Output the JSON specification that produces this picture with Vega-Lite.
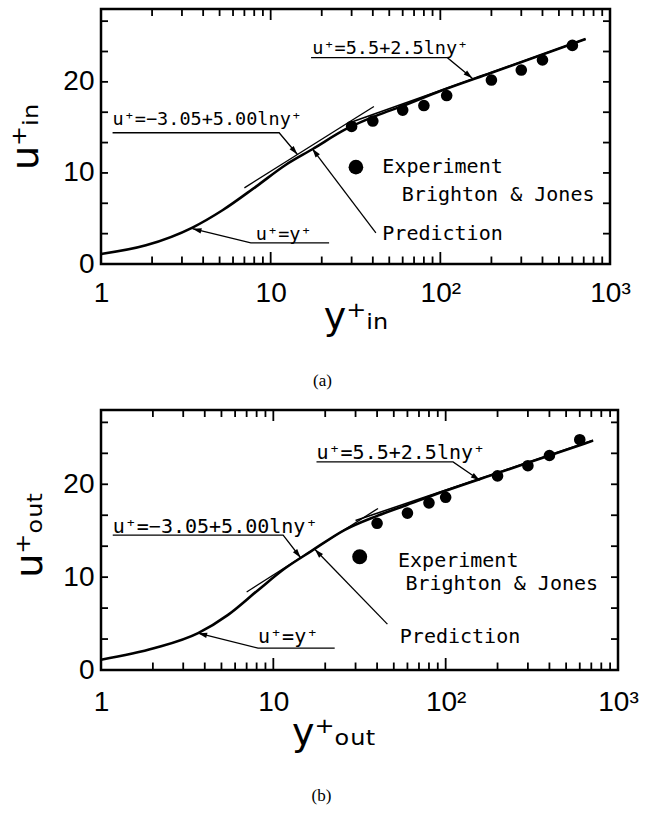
{
  "$schema": "https://vega.github.io/schema/vega-lite/v6.json",
  "background": "white",
  "padding": {"left": 6, "top": 4, "right": 5, "bottom": 5},
  "spacing": 14,
  "config": {
    "view": {"stroke": "black", "strokeWidth": 2.5},
    "axis": {
      "domain": false, "grid": false, "ticks": false, "tickSize": 0,
      "labelColor": "black", "labelFont": "Liberation Sans",
      "labelFontSize": 28, "labelFlush": false, "labelOverlap": false,
      "titleColor": "black", "titleFont": "DejaVu Sans", "titleFontSize": 38, "titleFontWeight": "normal"
    },
    "title": {"font": "Liberation Serif", "fontSize": 17, "fontWeight": "normal", "color": "black"}
  },
  "vconcat": [
    {
      "width": 509,
      "height": 255,
      "title": {"text": "(a)", "orient": "bottom", "anchor": "middle", "frame": "group", "offset": 37, "dx": -33},
      "resolve": {"axis": {"x": "independent", "y": "independent"}},
      "layer": [
        {
          "data": {"values": [
            {"yplus": 1.0, "uplus": 1.1}, {"yplus": 1.84, "uplus": 2.05}, {"yplus": 3.46, "uplus": 4.0},
            {"yplus": 5.2, "uplus": 5.9}, {"yplus": 8.2, "uplus": 8.5}, {"yplus": 12.3, "uplus": 10.9},
            {"yplus": 17.6, "uplus": 12.6}, {"yplus": 27.7, "uplus": 14.8}, {"yplus": 43.5, "uplus": 16.4},
            {"yplus": 57, "uplus": 17.2}, {"yplus": 100, "uplus": 19.0}, {"yplus": 200, "uplus": 21.0},
            {"yplus": 400, "uplus": 23.0}, {"yplus": 718, "uplus": 24.7}
          ]},
          "mark": {"type": "line", "color": "black", "strokeWidth": 2.6, "interpolate": "monotone"},
          "encoding": {
            "x": {"field": "yplus", "type": "quantitative",
              "scale": {"type": "log", "domain": [1, 1000], "nice": false},
              "axis": {"orient": "bottom", "values": [1, 10, 100, 1000],
                "labelExpr": "datum.value == 1 ? '1' : datum.value == 10 ? '10' : datum.value == 100 ? '10²' : '10³'",
                "labelPadding": 15, "title": "y⁺ᵢₙ", "titlePadding": -9}},
            "y": {"field": "uplus", "type": "quantitative",
              "scale": {"domain": [0, 28], "nice": false},
              "axis": {"orient": "left", "values": [0, 10, 20],
                "labelPadding": 7, "title": "u⁺ᵢₙ", "titlePadding": 17}}
          }
        },
        {
          "data": {"values": [{"tick": 1}, {"tick": 2}, {"tick": 3}, {"tick": 4}, {"tick": 5}, {"tick": 6}, {"tick": 7}, {"tick": 8}, {"tick": 9},
            {"tick": 10}, {"tick": 20}, {"tick": 30}, {"tick": 40}, {"tick": 50}, {"tick": 60}, {"tick": 70}, {"tick": 80}, {"tick": 90},
            {"tick": 100}, {"tick": 200}, {"tick": 300}, {"tick": 400}, {"tick": 500}, {"tick": 600}, {"tick": 700}, {"tick": 800}, {"tick": 900}, {"tick": 1000}]},
          "layer": [
            {
              "mark": {"type": "point", "shape": "M0,0L0,-2", "filled": false, "color": "black", "strokeWidth": 1.8, "opacity": 1},
              "encoding": {
                "x": {"field": "tick", "type": "quantitative", "axis": null},
                "y": {"datum": 0, "type": "quantitative", "axis": null},
                "size": {"condition": {"test": "datum.tick == 10 || datum.tick == 100", "value": 144}, "value": 56}
              }
            },
            {
              "mark": {"type": "point", "shape": "M0,0L0,2", "filled": false, "color": "black", "strokeWidth": 1.8, "opacity": 1},
              "encoding": {
                "x": {"field": "tick", "type": "quantitative", "axis": null},
                "y": {"datum": 28, "type": "quantitative", "axis": null},
                "size": {"condition": {"test": "datum.tick == 10 || datum.tick == 100", "value": 121}, "value": 49}
              }
            }
          ]
        },
        {
          "data": {"values": [{"tick": 0}, {"tick": 3.333}, {"tick": 6.667}, {"tick": 10}, {"tick": 13.333}, {"tick": 16.667}, {"tick": 20}, {"tick": 23.333}, {"tick": 26.667}]},
          "layer": [
            {
              "mark": {"type": "point", "shape": "M0,0L2,0", "filled": false, "color": "black", "strokeWidth": 1.8, "opacity": 1, "size": 49},
              "encoding": {
                "x": {"datum": 1, "type": "quantitative", "axis": null},
                "y": {"field": "tick", "type": "quantitative", "axis": null}
              }
            },
            {
              "mark": {"type": "point", "shape": "M0,0L-2,0", "filled": false, "color": "black", "strokeWidth": 1.8, "opacity": 1, "size": 49},
              "encoding": {
                "x": {"datum": 1000, "type": "quantitative", "axis": null},
                "y": {"field": "tick", "type": "quantitative", "axis": null}
              }
            }
          ]
        },
        {
          "data": {"values": [{"yplus": 29.2, "uplus": 15.5}, {"yplus": 718, "uplus": 24.7}]},
          "mark": {"type": "line", "color": "black", "strokeWidth": 1.6},
          "encoding": {
            "x": {"field": "yplus", "type": "quantitative", "axis": null},
            "y": {"field": "uplus", "type": "quantitative", "axis": null}
          }
        },
        {
          "data": {"values": [{"yplus": 7.0, "uplus": 8.36}, {"yplus": 40.6, "uplus": 17.3}]},
          "mark": {"type": "line", "color": "black", "strokeWidth": 1.3},
          "encoding": {
            "x": {"field": "yplus", "type": "quantitative", "axis": null},
            "y": {"field": "uplus", "type": "quantitative", "axis": null}
          }
        },
        {
          "data": {"values": [
            {"note": "loglaw", "step": 1, "yplus": 17.3, "uplus": 22.66}, {"note": "loglaw", "step": 2, "yplus": 110, "uplus": 22.66}, {"note": "loglaw", "step": 3, "yplus": 154.3, "uplus": 20.39},
            {"note": "buffer", "step": 1, "yplus": 1.17, "uplus": 14.41}, {"note": "buffer", "step": 2, "yplus": 11.22, "uplus": 14.41}, {"note": "buffer", "step": 3, "yplus": 14.38, "uplus": 12.02},
            {"note": "viscous", "step": 1, "yplus": 22.1, "uplus": 2.31}, {"note": "viscous", "step": 2, "yplus": 7.64, "uplus": 2.31}, {"note": "viscous", "step": 3, "yplus": 3.46, "uplus": 3.88},
            {"note": "prediction", "step": 1, "yplus": 41.7, "uplus": 3.41}, {"note": "prediction", "step": 2, "yplus": 17.6, "uplus": 12.65}
          ]},
          "mark": {"type": "line", "color": "black", "strokeWidth": 1.3},
          "encoding": {
            "x": {"field": "yplus", "type": "quantitative", "axis": null},
            "y": {"field": "uplus", "type": "quantitative", "axis": null},
            "detail": {"field": "note"},
            "order": {"field": "step"}
          }
        },
        {
          "data": {"values": [{"yplus": 154.3, "uplus": 20.39}]},
          "mark": {"type": "point", "shape": "M0,0L-0.6,2L0.6,2Z", "angle": 130, "filled": true, "color": "black", "opacity": 1, "size": 81},
          "encoding": {"x": {"field": "yplus", "type": "quantitative", "axis": null}, "y": {"field": "uplus", "type": "quantitative", "axis": null}}
        },
        {
          "data": {"values": [{"yplus": 14.38, "uplus": 12.02}]},
          "mark": {"type": "point", "shape": "M0,0L-0.6,2L0.6,2Z", "angle": 140, "filled": true, "color": "black", "opacity": 1, "size": 81},
          "encoding": {"x": {"field": "yplus", "type": "quantitative", "axis": null}, "y": {"field": "uplus", "type": "quantitative", "axis": null}}
        },
        {
          "data": {"values": [{"yplus": 3.46, "uplus": 3.88}]},
          "mark": {"type": "point", "shape": "M0,0L-0.6,2L0.6,2Z", "angle": 284, "filled": true, "color": "black", "opacity": 1, "size": 81},
          "encoding": {"x": {"field": "yplus", "type": "quantitative", "axis": null}, "y": {"field": "uplus", "type": "quantitative", "axis": null}}
        },
        {
          "data": {"values": [{"yplus": 17.6, "uplus": 12.65}]},
          "mark": {"type": "point", "shape": "M0,0L-0.6,2L0.6,2Z", "angle": 323, "filled": true, "color": "black", "opacity": 1, "size": 81},
          "encoding": {"x": {"field": "yplus", "type": "quantitative", "axis": null}, "y": {"field": "uplus", "type": "quantitative", "axis": null}}
        },
        {
          "data": {"values": [
            {"yplus": 30, "uplus": 15.1}, {"yplus": 40, "uplus": 15.7}, {"yplus": 60, "uplus": 16.9},
            {"yplus": 80, "uplus": 17.4}, {"yplus": 109, "uplus": 18.5}, {"yplus": 200, "uplus": 20.2},
            {"yplus": 300, "uplus": 21.3}, {"yplus": 400, "uplus": 22.4}, {"yplus": 600, "uplus": 24.0}
          ]},
          "mark": {"type": "circle", "color": "black", "opacity": 1, "size": 135},
          "encoding": {"x": {"field": "yplus", "type": "quantitative", "axis": null}, "y": {"field": "uplus", "type": "quantitative", "axis": null}}
        },
        {
          "data": {"values": [{"yplus": 31.8, "uplus": 10.63}]},
          "mark": {"type": "circle", "color": "black", "opacity": 1, "size": 215},
          "encoding": {"x": {"field": "yplus", "type": "quantitative", "axis": null}, "y": {"field": "uplus", "type": "quantitative", "axis": null}}
        },
        {
          "data": {"values": [
            {"yplus": 17.6, "uplus": 23.03, "text": "u⁺=5.5+2.5lny⁺"},
            {"yplus": 1.17, "uplus": 15.25, "text": "u⁺=−3.05+5.00lny⁺"},
            {"yplus": 8.18, "uplus": 2.67, "text": "u⁺=y⁺"}
          ]},
          "mark": {"type": "text", "font": "DejaVu Sans Mono", "fontSize": 18.5, "align": "left", "baseline": "alphabetic", "color": "black"},
          "encoding": {"x": {"field": "yplus", "type": "quantitative", "axis": null}, "y": {"field": "uplus", "type": "quantitative", "axis": null}, "text": {"field": "text"}}
        },
        {
          "data": {"values": [
            {"yplus": 45.5, "uplus": 10.01, "text": "Experiment"},
            {"yplus": 59.3, "uplus": 6.89, "text": "Brighton & Jones"},
            {"yplus": 45.5, "uplus": 2.67, "text": "Prediction"}
          ]},
          "mark": {"type": "text", "font": "DejaVu Sans Mono", "fontSize": 20, "align": "left", "baseline": "alphabetic", "color": "black"},
          "encoding": {"x": {"field": "yplus", "type": "quantitative", "axis": null}, "y": {"field": "uplus", "type": "quantitative", "axis": null}, "text": {"field": "text"}}
        }
      ]
    },
    {
      "width": 517,
      "height": 260,
      "title": {"text": "(b)", "orient": "bottom", "anchor": "middle", "frame": "group", "offset": 36, "dx": -38},
      "resolve": {"axis": {"x": "independent", "y": "independent"}},
      "layer": [
        {
          "data": {"values": [
            {"yplus": 1.0, "uplus": 1.1}, {"yplus": 2.05, "uplus": 2.36}, {"yplus": 3.66, "uplus": 3.97},
            {"yplus": 5.46, "uplus": 5.94}, {"yplus": 8.15, "uplus": 8.6}, {"yplus": 11.6, "uplus": 10.9},
            {"yplus": 16.6, "uplus": 12.8}, {"yplus": 26, "uplus": 15.1}, {"yplus": 40, "uplus": 16.6},
            {"yplus": 60, "uplus": 17.8}, {"yplus": 100, "uplus": 19.3}, {"yplus": 200, "uplus": 21.2},
            {"yplus": 400, "uplus": 23.1}, {"yplus": 717, "uplus": 24.7}
          ]},
          "mark": {"type": "line", "color": "black", "strokeWidth": 2.6, "interpolate": "monotone"},
          "encoding": {
            "x": {"field": "yplus", "type": "quantitative",
              "scale": {"type": "log", "domain": [1, 1000], "nice": false},
              "axis": {"orient": "bottom", "values": [1, 10, 100, 1000],
                "labelExpr": "datum.value == 1 ? '1' : datum.value == 10 ? '10' : datum.value == 100 ? '10²' : '10³'",
                "labelPadding": 18, "title": "y⁺ₒᵤₜ", "titlePadding": -2, "titleX": 233}},
            "y": {"field": "uplus", "type": "quantitative",
              "scale": {"domain": [0, 28], "nice": false},
              "axis": {"orient": "left", "values": [0, 10, 20],
                "labelPadding": 7, "title": "u⁺ₒᵤₜ", "titlePadding": 13, "titleY": 124}}
          }
        },
        {
          "data": {"values": [{"tick": 1}, {"tick": 2}, {"tick": 3}, {"tick": 4}, {"tick": 5}, {"tick": 6}, {"tick": 7}, {"tick": 8}, {"tick": 9},
            {"tick": 10}, {"tick": 20}, {"tick": 30}, {"tick": 40}, {"tick": 50}, {"tick": 60}, {"tick": 70}, {"tick": 80}, {"tick": 90},
            {"tick": 100}, {"tick": 200}, {"tick": 300}, {"tick": 400}, {"tick": 500}, {"tick": 600}, {"tick": 700}, {"tick": 800}, {"tick": 900}, {"tick": 1000}]},
          "layer": [
            {
              "mark": {"type": "point", "shape": "M0,0L0,-2", "filled": false, "color": "black", "strokeWidth": 1.8, "opacity": 1},
              "encoding": {
                "x": {"field": "tick", "type": "quantitative", "axis": null},
                "y": {"datum": 0, "type": "quantitative", "axis": null},
                "size": {"condition": {"test": "datum.tick == 10 || datum.tick == 100", "value": 144}, "value": 56}
              }
            },
            {
              "mark": {"type": "point", "shape": "M0,0L0,2", "filled": false, "color": "black", "strokeWidth": 1.8, "opacity": 1},
              "encoding": {
                "x": {"field": "tick", "type": "quantitative", "axis": null},
                "y": {"datum": 28, "type": "quantitative", "axis": null},
                "size": {"condition": {"test": "datum.tick == 10 || datum.tick == 100", "value": 121}, "value": 49}
              }
            }
          ]
        },
        {
          "data": {"values": [{"tick": 0}, {"tick": 3.333}, {"tick": 6.667}, {"tick": 10}, {"tick": 13.333}, {"tick": 16.667}, {"tick": 20}, {"tick": 23.333}, {"tick": 26.667}]},
          "layer": [
            {
              "mark": {"type": "point", "shape": "M0,0L2,0", "filled": false, "color": "black", "strokeWidth": 1.8, "opacity": 1, "size": 49},
              "encoding": {
                "x": {"datum": 1, "type": "quantitative", "axis": null},
                "y": {"field": "tick", "type": "quantitative", "axis": null}
              }
            },
            {
              "mark": {"type": "point", "shape": "M0,0L-2,0", "filled": false, "color": "black", "strokeWidth": 1.8, "opacity": 1, "size": 49},
              "encoding": {
                "x": {"datum": 1000, "type": "quantitative", "axis": null},
                "y": {"field": "tick", "type": "quantitative", "axis": null}
              }
            }
          ]
        },
        {
          "data": {"values": [{"yplus": 30, "uplus": 16.1}, {"yplus": 717, "uplus": 24.74}]},
          "mark": {"type": "line", "color": "black", "strokeWidth": 1.6},
          "encoding": {
            "x": {"field": "yplus", "type": "quantitative", "axis": null},
            "y": {"field": "uplus", "type": "quantitative", "axis": null}
          }
        },
        {
          "data": {"values": [{"yplus": 7.0, "uplus": 8.4}, {"yplus": 40.5, "uplus": 17.4}]},
          "mark": {"type": "line", "color": "black", "strokeWidth": 1.3},
          "encoding": {
            "x": {"field": "yplus", "type": "quantitative", "axis": null},
            "y": {"field": "uplus", "type": "quantitative", "axis": null}
          }
        },
        {
          "data": {"values": [
            {"note": "loglaw", "step": 1, "yplus": 17.8, "uplus": 22.41}, {"note": "loglaw", "step": 2, "yplus": 110.4, "uplus": 22.41}, {"note": "loglaw", "step": 3, "yplus": 157.7, "uplus": 20.44},
            {"note": "buffer", "step": 1, "yplus": 1.17, "uplus": 14.53}, {"note": "buffer", "step": 2, "yplus": 11.4, "uplus": 14.53}, {"note": "buffer", "step": 3, "yplus": 14.4, "uplus": 12.09},
            {"note": "viscous", "step": 1, "yplus": 22.7, "uplus": 2.36}, {"note": "viscous", "step": 2, "yplus": 8.15, "uplus": 2.36}, {"note": "viscous", "step": 3, "yplus": 3.66, "uplus": 3.97},
            {"note": "prediction", "step": 1, "yplus": 45.9, "uplus": 4.94}, {"note": "prediction", "step": 2, "yplus": 17.4, "uplus": 13.0}
          ]},
          "mark": {"type": "line", "color": "black", "strokeWidth": 1.3},
          "encoding": {
            "x": {"field": "yplus", "type": "quantitative", "axis": null},
            "y": {"field": "uplus", "type": "quantitative", "axis": null},
            "detail": {"field": "note"},
            "order": {"field": "step"}
          }
        },
        {
          "data": {"values": [{"yplus": 157.7, "uplus": 20.44}]},
          "mark": {"type": "point", "shape": "M0,0L-0.6,2L0.6,2Z", "angle": 124, "filled": true, "color": "black", "opacity": 1, "size": 81},
          "encoding": {"x": {"field": "yplus", "type": "quantitative", "axis": null}, "y": {"field": "uplus", "type": "quantitative", "axis": null}}
        },
        {
          "data": {"values": [{"yplus": 14.4, "uplus": 12.09}]},
          "mark": {"type": "point", "shape": "M0,0L-0.6,2L0.6,2Z", "angle": 142, "filled": true, "color": "black", "opacity": 1, "size": 81},
          "encoding": {"x": {"field": "yplus", "type": "quantitative", "axis": null}, "y": {"field": "uplus", "type": "quantitative", "axis": null}}
        },
        {
          "data": {"values": [{"yplus": 3.66, "uplus": 3.97}]},
          "mark": {"type": "point", "shape": "M0,0L-0.6,2L0.6,2Z", "angle": 284, "filled": true, "color": "black", "opacity": 1, "size": 81},
          "encoding": {"x": {"field": "yplus", "type": "quantitative", "axis": null}, "y": {"field": "uplus", "type": "quantitative", "axis": null}}
        },
        {
          "data": {"values": [{"yplus": 17.4, "uplus": 13.0}]},
          "mark": {"type": "point", "shape": "M0,0L-0.6,2L0.6,2Z", "angle": 316, "filled": true, "color": "black", "opacity": 1, "size": 81},
          "encoding": {"x": {"field": "yplus", "type": "quantitative", "axis": null}, "y": {"field": "uplus", "type": "quantitative", "axis": null}}
        },
        {
          "data": {"values": [
            {"yplus": 40, "uplus": 15.8}, {"yplus": 60, "uplus": 16.9}, {"yplus": 80, "uplus": 18.0},
            {"yplus": 100, "uplus": 18.6}, {"yplus": 200, "uplus": 20.9}, {"yplus": 300, "uplus": 22.0},
            {"yplus": 400, "uplus": 23.1}, {"yplus": 600, "uplus": 24.8}
          ]},
          "mark": {"type": "circle", "color": "black", "opacity": 1, "size": 135},
          "encoding": {"x": {"field": "yplus", "type": "quantitative", "axis": null}, "y": {"field": "uplus", "type": "quantitative", "axis": null}}
        },
        {
          "data": {"values": [{"yplus": 31.7, "uplus": 12.2}]},
          "mark": {"type": "circle", "color": "black", "opacity": 1, "size": 225},
          "encoding": {"x": {"field": "yplus", "type": "quantitative", "axis": null}, "y": {"field": "uplus", "type": "quantitative", "axis": null}}
        },
        {
          "data": {"values": [
            {"yplus": 17.8, "uplus": 22.77, "text": "u⁺=5.5+2.5lny⁺"},
            {"yplus": 1.17, "uplus": 14.72, "text": "u⁺=−3.05+5.00lny⁺"},
            {"yplus": 8.15, "uplus": 2.93, "text": "u⁺=y⁺"}
          ]},
          "mark": {"type": "text", "font": "DejaVu Sans Mono", "fontSize": 20, "align": "left", "baseline": "alphabetic", "color": "black"},
          "encoding": {"x": {"field": "yplus", "type": "quantitative", "axis": null}, "y": {"field": "uplus", "type": "quantitative", "axis": null}, "text": {"field": "text"}}
        },
        {
          "data": {"values": [
            {"yplus": 52.9, "uplus": 11.13, "text": "Experiment"},
            {"yplus": 58.4, "uplus": 8.63, "text": "Brighton & Jones"},
            {"yplus": 54.2, "uplus": 2.9, "text": "Prediction"}
          ]},
          "mark": {"type": "text", "font": "DejaVu Sans Mono", "fontSize": 20, "align": "left", "baseline": "alphabetic", "color": "black"},
          "encoding": {"x": {"field": "yplus", "type": "quantitative", "axis": null}, "y": {"field": "uplus", "type": "quantitative", "axis": null}, "text": {"field": "text"}}
        }
      ]
    }
  ]
}
